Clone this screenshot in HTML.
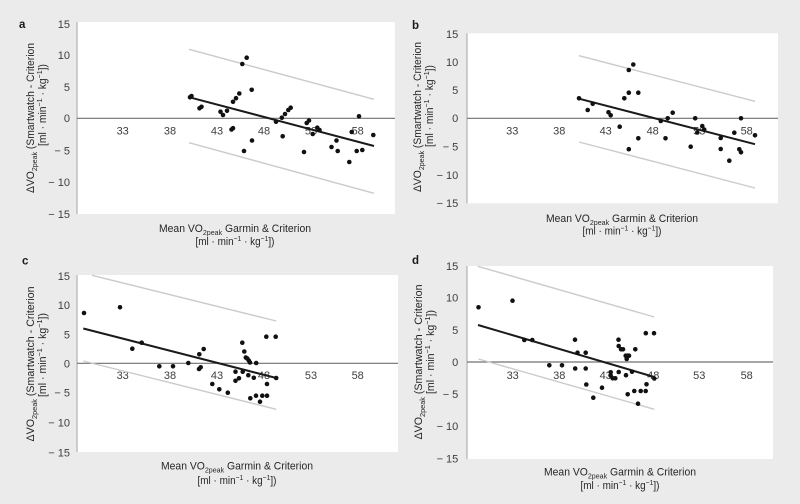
<!DOCTYPE html>
<html><head><meta charset="utf-8"><style>
html,body{margin:0;padding:0;background:#ebebeb;}
svg{display:block;}
text{font-family:"Liberation Sans",sans-serif;}
.t{font-size:11px;fill:#3e3e3e;}
.ti{font-size:11px;fill:#262626;}
.pl{font-size:11.5px;font-weight:bold;fill:#1a1a1a;}
.z{stroke:#707070;stroke-width:1.2;}
.ax{stroke:#b0b0b0;stroke-width:1.2;}
.loa{stroke:#cbcbcb;stroke-width:1.4;}
.reg{stroke:#1a1a1a;stroke-width:2;}
</style></head><body>
<svg width="800" height="504" viewBox="0 0 800 504" xmlns="http://www.w3.org/2000/svg">
<rect width="800" height="504" fill="#ebebeb"/>

<!-- ============ PANEL A ============ -->
<rect x="77" y="22" width="318" height="192" fill="#fff"/>
<line class="ax" x1="77" y1="22" x2="77" y2="214"/>
<line class="z" x1="77" y1="118.3" x2="395" y2="118.3"/>
<g class="t" text-anchor="end">
<text x="70" y="28">15</text><text x="70" y="59">10</text><text x="70" y="91">5</text><text x="70" y="122">0</text>
<text x="70" y="154.5">− 5</text><text x="70" y="186">− 10</text><text x="70" y="218">− 15</text>
</g>
<g class="t" text-anchor="middle">
<text x="122.7" y="134.5">33</text><text x="170" y="134.5">38</text><text x="217" y="134.5">43</text>
<text x="264" y="134.5">48</text><text x="311" y="134.5">53</text><text x="357.7" y="134.5">58</text>
</g>
<line class="loa" x1="189" y1="49.3" x2="374" y2="99.3"/>
<line class="loa" x1="189" y1="142.7" x2="374" y2="193.3"/>
<line class="reg" x1="191" y1="97.7" x2="374" y2="146"/>
<g fill="#111">
<circle cx="190" cy="97.3" r="2.3"/><circle cx="191.5" cy="96" r="2.3"/><circle cx="199.5" cy="108.3" r="2.3"/><circle cx="201.5" cy="106.8" r="2.3"/>
<circle cx="220.5" cy="111.7" r="2.3"/><circle cx="223" cy="115" r="2.3"/><circle cx="227" cy="110.8" r="2.3"/><circle cx="231.5" cy="129.5" r="2.3"/>
<circle cx="233" cy="128.2" r="2.3"/><circle cx="233" cy="101.8" r="2.3"/><circle cx="236" cy="98.2" r="2.3"/><circle cx="239.3" cy="93.5" r="2.3"/>
<circle cx="242.3" cy="64" r="2.3"/><circle cx="246.7" cy="57.7" r="2.3"/><circle cx="251.7" cy="89.8" r="2.3"/><circle cx="244" cy="151" r="2.3"/>
<circle cx="252" cy="140.5" r="2.3"/><circle cx="276" cy="121.8" r="2.3"/><circle cx="281.8" cy="117.7" r="2.3"/><circle cx="285" cy="114" r="2.3"/>
<circle cx="288.3" cy="110" r="2.3"/><circle cx="290.7" cy="107.7" r="2.3"/><circle cx="282.7" cy="136.3" r="2.3"/><circle cx="304" cy="152" r="2.3"/>
<circle cx="306.7" cy="123" r="2.3"/><circle cx="309" cy="120.5" r="2.3"/><circle cx="317.3" cy="127.7" r="2.3"/><circle cx="319.5" cy="130" r="2.3"/>
<circle cx="312.7" cy="134" r="2.3"/><circle cx="331.5" cy="147" r="2.3"/><circle cx="336.5" cy="140.5" r="2.3"/><circle cx="337.7" cy="151" r="2.3"/>
<circle cx="349.3" cy="162" r="2.3"/><circle cx="351.7" cy="132" r="2.3"/><circle cx="356.7" cy="151" r="2.3"/><circle cx="362.3" cy="150" r="2.3"/>
<circle cx="359" cy="116.3" r="2.3"/><circle cx="373.3" cy="135" r="2.3"/>
</g>
<text class="pl" x="19" y="28">a</text>
<text class="ti" transform="translate(34,118) rotate(-90)" text-anchor="middle" textLength="150" lengthAdjust="spacingAndGlyphs">ΔVO<tspan font-size="7.5" dy="3">2peak</tspan><tspan dy="-3"> (Smartwatch - Criterion</tspan></text>
<text class="ti" transform="translate(46,105) rotate(-90)" text-anchor="middle" textLength="82" lengthAdjust="spacingAndGlyphs">[ml · min<tspan font-size="7.5" dy="-4">−1</tspan><tspan dy="4"> · kg</tspan><tspan font-size="7.5" dy="-4">−1</tspan><tspan dy="4">])</tspan></text>
<text class="ti" x="235" y="232" text-anchor="middle" textLength="152" lengthAdjust="spacingAndGlyphs">Mean VO<tspan font-size="7.5" dy="3">2peak</tspan><tspan dy="-3"> Garmin &amp; Criterion</tspan></text>
<text class="ti" x="235" y="245" text-anchor="middle" textLength="79" lengthAdjust="spacingAndGlyphs">[ml · min<tspan font-size="7.5" dy="-4">−1</tspan><tspan dy="4"> · kg</tspan><tspan font-size="7.5" dy="-4">−1</tspan><tspan dy="4">])</tspan></text>

<!-- ============ PANEL B ============ -->
<rect x="467" y="33.3" width="311" height="170" fill="#fff"/>
<line class="ax" x1="467" y1="33.3" x2="467" y2="203.3"/>
<line class="z" x1="467" y1="118.3" x2="778" y2="118.3"/>
<g class="t" text-anchor="end">
<text x="458.3" y="38">15</text><text x="458.3" y="66">10</text><text x="458.3" y="94">5</text><text x="458.3" y="122">0</text>
<text x="458.3" y="150.5">− 5</text><text x="458.3" y="179">− 10</text><text x="458.3" y="207">− 15</text>
</g>
<g class="t" text-anchor="middle">
<text x="512.3" y="134.5">33</text><text x="559.3" y="134.5">38</text><text x="605.7" y="134.5">43</text>
<text x="652.7" y="134.5">48</text><text x="699.3" y="134.5">53</text><text x="746.7" y="134.5">58</text>
</g>
<line class="loa" x1="579" y1="55.7" x2="755" y2="101.3"/>
<line class="loa" x1="579" y1="142" x2="755" y2="188"/>
<line class="reg" x1="579" y1="98.7" x2="755" y2="144.2"/>
<g fill="#111">
<circle cx="579" cy="98.3" r="2.3"/><circle cx="587.7" cy="110" r="2.3"/><circle cx="592.7" cy="103.8" r="2.3"/><circle cx="608.5" cy="112.3" r="2.3"/>
<circle cx="610.7" cy="115.3" r="2.3"/><circle cx="619.7" cy="126.7" r="2.3"/><circle cx="624.3" cy="98.3" r="2.3"/><circle cx="628.8" cy="92.7" r="2.3"/>
<circle cx="628.8" cy="70" r="2.3"/><circle cx="633.3" cy="64.5" r="2.3"/><circle cx="638.3" cy="92.7" r="2.3"/><circle cx="628.8" cy="149.2" r="2.3"/>
<circle cx="638.3" cy="138.3" r="2.3"/><circle cx="660.8" cy="121" r="2.3"/><circle cx="665.5" cy="138.3" r="2.3"/><circle cx="667.7" cy="118.3" r="2.3"/>
<circle cx="672.7" cy="112.7" r="2.3"/><circle cx="690.7" cy="146.7" r="2.3"/><circle cx="695.2" cy="118.3" r="2.3"/><circle cx="697.3" cy="132.5" r="2.3"/>
<circle cx="702.3" cy="126" r="2.3"/><circle cx="704.2" cy="129.5" r="2.3"/><circle cx="720.7" cy="138" r="2.3"/><circle cx="720.7" cy="149" r="2.3"/>
<circle cx="729.3" cy="160.7" r="2.3"/><circle cx="734.3" cy="132.7" r="2.3"/><circle cx="739.3" cy="149.3" r="2.3"/><circle cx="741" cy="152.3" r="2.3"/>
<circle cx="741" cy="118.3" r="2.3"/><circle cx="755" cy="135.3" r="2.3"/>
</g>
<text class="pl" x="412" y="29">b</text>
<text class="ti" transform="translate(421,117) rotate(-90)" text-anchor="middle" textLength="150" lengthAdjust="spacingAndGlyphs">ΔVO<tspan font-size="7.5" dy="3">2peak</tspan><tspan dy="-3"> (Smartwatch - Criterion</tspan></text>
<text class="ti" transform="translate(433,106) rotate(-90)" text-anchor="middle" textLength="82" lengthAdjust="spacingAndGlyphs">[ml · min<tspan font-size="7.5" dy="-4">−1</tspan><tspan dy="4"> · kg</tspan><tspan font-size="7.5" dy="-4">−1</tspan><tspan dy="4">])</tspan></text>
<text class="ti" x="622" y="222" text-anchor="middle" textLength="152" lengthAdjust="spacingAndGlyphs">Mean VO<tspan font-size="7.5" dy="3">2peak</tspan><tspan dy="-3"> Garmin &amp; Criterion</tspan></text>
<text class="ti" x="622" y="234.5" text-anchor="middle" textLength="79" lengthAdjust="spacingAndGlyphs">[ml · min<tspan font-size="7.5" dy="-4">−1</tspan><tspan dy="4"> · kg</tspan><tspan font-size="7.5" dy="-4">−1</tspan><tspan dy="4">])</tspan></text>

<!-- ============ PANEL C ============ -->
<rect x="77" y="275" width="321" height="177" fill="#fff"/>
<line class="ax" x1="77" y1="275" x2="77" y2="452"/>
<line class="z" x1="77" y1="363.3" x2="398" y2="363.3"/>
<g class="t" text-anchor="end">
<text x="70" y="280">15</text><text x="70" y="309">10</text><text x="70" y="338.3">5</text><text x="70" y="367.3">0</text>
<text x="70" y="396.7">− 5</text><text x="70" y="426.7">− 10</text><text x="70" y="456.7">− 15</text>
</g>
<g class="t" text-anchor="middle">
<text x="122.7" y="379">33</text><text x="170" y="379">38</text><text x="217" y="379">43</text>
<text x="264" y="379">48</text><text x="311" y="379">53</text><text x="357.7" y="379">58</text>
</g>
<line class="loa" x1="92" y1="275.3" x2="276.3" y2="321"/>
<line class="loa" x1="83.3" y1="361" x2="276.3" y2="409.3"/>
<line class="reg" x1="83.3" y1="328.5" x2="276.3" y2="378"/>
<g fill="#111">
<circle cx="84" cy="313" r="2.3"/><circle cx="120" cy="307.3" r="2.3"/><circle cx="132.3" cy="348.7" r="2.3"/><circle cx="141.7" cy="342.7" r="2.3"/>
<circle cx="159.3" cy="366.3" r="2.3"/><circle cx="173" cy="366.3" r="2.3"/><circle cx="188.3" cy="363" r="2.3"/><circle cx="199" cy="369" r="2.3"/>
<circle cx="200.7" cy="367.3" r="2.3"/><circle cx="199.3" cy="354.3" r="2.3"/><circle cx="203.7" cy="349" r="2.3"/><circle cx="212.3" cy="384" r="2.3"/>
<circle cx="219.3" cy="389.3" r="2.3"/><circle cx="227.8" cy="392.7" r="2.3"/><circle cx="235.5" cy="371.7" r="2.3"/><circle cx="235.5" cy="380.8" r="2.3"/>
<circle cx="239" cy="378.3" r="2.3"/><circle cx="242.3" cy="342.7" r="2.3"/><circle cx="244.3" cy="351.5" r="2.3"/><circle cx="245.8" cy="357.5" r="2.3"/>
<circle cx="247.3" cy="358.5" r="2.3"/><circle cx="248.8" cy="360.5" r="2.3"/><circle cx="250" cy="362.5" r="2.3"/><circle cx="242.7" cy="371.7" r="2.3"/>
<circle cx="248.3" cy="375.2" r="2.3"/><circle cx="253.8" cy="377.8" r="2.3"/><circle cx="256.2" cy="363" r="2.3"/><circle cx="250.3" cy="398.3" r="2.3"/>
<circle cx="256" cy="395.7" r="2.3"/><circle cx="260" cy="401.7" r="2.3"/><circle cx="262.3" cy="395.7" r="2.3"/><circle cx="267" cy="395.7" r="2.3"/>
<circle cx="267" cy="384" r="2.3"/><circle cx="266.3" cy="336.7" r="2.3"/><circle cx="275.7" cy="336.7" r="2.3"/><circle cx="276.2" cy="378" r="2.3"/>
</g>
<text class="pl" x="22" y="264.5">c</text>
<text class="ti" transform="translate(34,364) rotate(-90)" text-anchor="middle" textLength="155" lengthAdjust="spacingAndGlyphs">ΔVO<tspan font-size="7.5" dy="3">2peak</tspan><tspan dy="-3"> (Smartwatch - Criterion</tspan></text>
<text class="ti" transform="translate(46,355) rotate(-90)" text-anchor="middle" textLength="84" lengthAdjust="spacingAndGlyphs">[ml · min<tspan font-size="7.5" dy="-4">−1</tspan><tspan dy="4"> · kg</tspan><tspan font-size="7.5" dy="-4">−1</tspan><tspan dy="4">])</tspan></text>
<text class="ti" x="237" y="469.5" text-anchor="middle" textLength="152" lengthAdjust="spacingAndGlyphs">Mean VO<tspan font-size="7.5" dy="3">2peak</tspan><tspan dy="-3"> Garmin &amp; Criterion</tspan></text>
<text class="ti" x="237" y="484" text-anchor="middle" textLength="79" lengthAdjust="spacingAndGlyphs">[ml · min<tspan font-size="7.5" dy="-4">−1</tspan><tspan dy="4"> · kg</tspan><tspan font-size="7.5" dy="-4">−1</tspan><tspan dy="4">])</tspan></text>

<!-- ============ PANEL D ============ -->
<rect x="467" y="266" width="306" height="193" fill="#fff"/>
<line class="ax" x1="467" y1="266" x2="467" y2="459"/>
<line class="z" x1="467" y1="362" x2="773" y2="362"/>
<g class="t" text-anchor="end">
<text x="458.3" y="270">15</text><text x="458.3" y="301.7">10</text><text x="458.3" y="334">5</text><text x="458.3" y="366">0</text>
<text x="458.3" y="398">− 5</text><text x="458.3" y="430">− 10</text><text x="458.3" y="462.3">− 15</text>
</g>
<g class="t" text-anchor="middle">
<text x="512.7" y="379">33</text><text x="559.3" y="379">38</text><text x="605.7" y="379">43</text>
<text x="653.3" y="379">48</text><text x="699.3" y="379">53</text><text x="746.7" y="379">58</text>
</g>
<line class="loa" x1="477.7" y1="266.3" x2="654.3" y2="317"/>
<line class="loa" x1="478.5" y1="359" x2="654.3" y2="409.3"/>
<line class="reg" x1="478" y1="325" x2="654.3" y2="377"/>
<g fill="#111">
<circle cx="478.5" cy="307.3" r="2.3"/><circle cx="512.5" cy="300.7" r="2.3"/><circle cx="524.3" cy="340" r="2.3"/><circle cx="532.3" cy="340" r="2.3"/>
<circle cx="549.3" cy="365.3" r="2.3"/><circle cx="562" cy="365.3" r="2.3"/><circle cx="575" cy="339.7" r="2.3"/><circle cx="577.5" cy="352.7" r="2.3"/>
<circle cx="575.2" cy="368.5" r="2.3"/><circle cx="585.7" cy="352.7" r="2.3"/><circle cx="585.7" cy="368.5" r="2.3"/><circle cx="586.3" cy="384.5" r="2.3"/>
<circle cx="593.3" cy="397.7" r="2.3"/><circle cx="602" cy="387.7" r="2.3"/><circle cx="610.7" cy="372.3" r="2.3"/><circle cx="610.7" cy="375.8" r="2.3"/>
<circle cx="612.7" cy="378.3" r="2.3"/><circle cx="615.3" cy="378.3" r="2.3"/><circle cx="618.5" cy="339.7" r="2.3"/><circle cx="618.7" cy="346" r="2.3"/>
<circle cx="621" cy="349.3" r="2.3"/><circle cx="623" cy="349.3" r="2.3"/><circle cx="618.7" cy="372" r="2.3"/><circle cx="625.7" cy="355.7" r="2.3"/>
<circle cx="627.7" cy="355.7" r="2.3"/><circle cx="626.7" cy="359" r="2.3"/><circle cx="629" cy="355.7" r="2.3"/><circle cx="626" cy="375.2" r="2.3"/>
<circle cx="627.7" cy="394.3" r="2.3"/><circle cx="632" cy="371.7" r="2.3"/><circle cx="635.3" cy="349.3" r="2.3"/><circle cx="634.3" cy="391" r="2.3"/>
<circle cx="640.7" cy="391" r="2.3"/><circle cx="645.7" cy="391" r="2.3"/><circle cx="638" cy="403.7" r="2.3"/><circle cx="646.5" cy="384.3" r="2.3"/>
<circle cx="645.8" cy="333.2" r="2.3"/><circle cx="654" cy="333.2" r="2.3"/><circle cx="654.3" cy="378.5" r="2.3"/>
</g>
<text class="pl" x="412" y="264">d</text>
<text class="ti" transform="translate(422,362) rotate(-90)" text-anchor="middle" textLength="155" lengthAdjust="spacingAndGlyphs">ΔVO<tspan font-size="7.5" dy="3">2peak</tspan><tspan dy="-3"> (Smartwatch - Criterion</tspan></text>
<text class="ti" transform="translate(434,352) rotate(-90)" text-anchor="middle" textLength="84" lengthAdjust="spacingAndGlyphs">[ml · min<tspan font-size="7.5" dy="-4">−1</tspan><tspan dy="4"> · kg</tspan><tspan font-size="7.5" dy="-4">−1</tspan><tspan dy="4">])</tspan></text>
<text class="ti" x="620" y="475.5" text-anchor="middle" textLength="152" lengthAdjust="spacingAndGlyphs">Mean VO<tspan font-size="7.5" dy="3">2peak</tspan><tspan dy="-3"> Garmin &amp; Criterion</tspan></text>
<text class="ti" x="620" y="489" text-anchor="middle" textLength="79" lengthAdjust="spacingAndGlyphs">[ml · min<tspan font-size="7.5" dy="-4">−1</tspan><tspan dy="4"> · kg</tspan><tspan font-size="7.5" dy="-4">−1</tspan><tspan dy="4">])</tspan></text>
</svg>
</body></html>
